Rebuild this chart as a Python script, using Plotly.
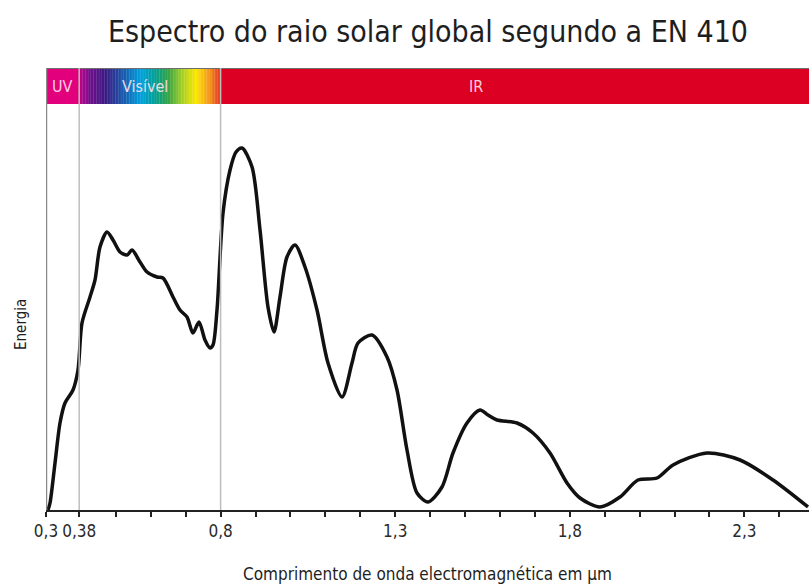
import plotly.graph_objects as go

# ---- data ----
wavelength = [0.3057, 0.3115, 0.3258, 0.3401, 0.3544, 0.3773, 0.3916, 0.4031, 0.4260, 0.4403,
              0.4546, 0.4747, 0.4919, 0.5119, 0.5320, 0.5463, 0.5692, 0.5892, 0.6179, 0.6351,
              0.6637, 0.6837, 0.7038, 0.7210, 0.7381, 0.7553, 0.7696, 0.7782, 0.7897, 0.8069,
              0.8270, 0.8441, 0.8613, 0.8900, 0.9129, 0.9357, 0.9529, 0.9701, 0.9901, 1.0131,
              1.0417, 1.0761, 1.1076, 1.1477, 1.1763, 1.1935, 1.2336, 1.2765, 1.3052, 1.3338,
              1.3625, 1.3939, 1.4340, 1.4655, 1.5056, 1.5429, 1.5658, 1.5915, 1.6488, 1.6946,
              1.7433, 1.7920, 1.8292, 1.8865, 1.9438, 1.9953, 2.0498, 2.0956, 2.1930, 2.2875,
              2.3820, 2.4822]
energy = [0, 7, 47, 87, 107, 120, 140, 187, 213, 230,
          263, 278, 270, 258, 255, 260, 248, 238, 233, 232,
          213, 200, 193, 177, 188, 170, 162, 165, 200, 297,
          340, 358, 362, 343, 280, 203, 178, 213, 253, 265,
          243, 200, 147, 113, 147, 167, 175, 153, 120, 60,
          17, 8, 23, 57, 87, 100, 95, 90, 87, 77,
          57, 27, 12, 3, 13, 30, 32, 45, 57, 50,
          30, 3]

tick_positions = [0.3, 0.395, 0.5, 0.6, 0.7, 0.8, 0.9, 1.0, 1.1, 1.2, 1.3, 1.4, 1.5, 1.6, 1.7,
                  1.8, 1.9, 2.0, 2.1, 2.2, 2.3, 2.4]
tick_labels = ["0,3", "0,38", "", "", "", "0,8", "", "", "", "", "1,3", "", "", "", "",
               "1,8", "", "", "", "", "2,3", ""]

band_names = ["UV", "Visível", "IR"]
band_edges = [0.3, 0.395, 0.8, 2.485]
band_label_x = [0.346, 0.583, 1.53]

vis_stop_pos = [0.395, 0.40, 0.43, 0.47, 0.53, 0.57, 0.61, 0.65, 0.69, 0.73, 0.77, 0.80]
vis_stop_col = ["#c8007e", "#b0068a", "#6a118c", "#3a1b82", "#1565b4", "#00a0df", "#00a09a",
                "#35a244", "#a6d025", "#fce600", "#f29120", "#e2301e"]

X_MIN, X_MAX = 0.3, 2.485
Y_MAX = 442
BAND_LOW = 406

FONT = "Liberation Sans Narrow, DejaVu Sans Condensed, Arial Narrow, sans-serif"


def hex_to_rgb(h):
    h = h.lstrip("#")
    return tuple(int(h[i:i + 2], 16) for i in (0, 2, 4))


def interp_color(x):
    for i in range(len(vis_stop_pos) - 1):
        a, b = vis_stop_pos[i], vis_stop_pos[i + 1]
        if a <= x <= b:
            t = (x - a) / (b - a) if b > a else 0
            c1, c2 = hex_to_rgb(vis_stop_col[i]), hex_to_rgb(vis_stop_col[i + 1])
            c = [round(c1[k] + (c2[k] - c1[k]) * t) for k in range(3)]
            return "rgb(%d,%d,%d)" % tuple(c)
    return vis_stop_col[-1]


shapes = []
# UV block
shapes.append(dict(type="rect", xref="x", yref="y", x0=band_edges[0], x1=band_edges[1],
                   y0=BAND_LOW, y1=Y_MAX, fillcolor="#e3007d", line=dict(width=0), layer="below"))
# visible gradient
n = 90
a, b = band_edges[1], band_edges[2]
for i in range(n):
    x0 = a + (b - a) * i / n
    x1 = a + (b - a) * (i + 1) / n
    shapes.append(dict(type="rect", xref="x", yref="y", x0=x0, x1=x1 + 0.0008,
                       y0=BAND_LOW, y1=Y_MAX, fillcolor=interp_color((x0 + x1) / 2),
                       line=dict(width=0), layer="below"))
# IR block
shapes.append(dict(type="rect", xref="x", yref="y", x0=band_edges[2], x1=band_edges[3],
                   y0=BAND_LOW, y1=Y_MAX, fillcolor="#dc0022", line=dict(width=0), layer="below"))
# top border of band
shapes.append(dict(type="line", xref="x", yref="y", x0=X_MIN, x1=X_MAX, y0=Y_MAX, y1=Y_MAX,
                   line=dict(color="#6e6e6e", width=2)))
# boundary lines
for xv in [band_edges[1], band_edges[2]]:
    shapes.append(dict(type="line", xref="x", yref="y", x0=xv, x1=xv, y0=0, y1=Y_MAX,
                       line=dict(color="#bdbdbd", width=1.5)))
# left border
shapes.append(dict(type="line", xref="x", yref="y", x0=X_MIN, x1=X_MIN, y0=0, y1=Y_MAX,
                   line=dict(color="#8a8a8a", width=2.5)))

fig = go.Figure()
fig.add_trace(go.Scatter(x=wavelength, y=energy, mode="lines",
                         line=dict(color="#111111", width=3.5, shape="spline", smoothing=0.8),
                         hoverinfo="skip", showlegend=False))

annotations = []
for name, xv in zip(band_names, band_label_x):
    annotations.append(dict(x=xv, y=(BAND_LOW + Y_MAX) / 2, xref="x", yref="y", text=name,
                            showarrow=False, font=dict(family=FONT, size=16,
                                                       color="rgba(255,225,240,0.92)")))
annotations.append(dict(x=0.5, y=1 + (68 - 31) / 442, xref="paper", yref="paper",
                        text="Espectro do raio solar global segundo a EN 410", showarrow=False,
                        xanchor="center", yanchor="middle",
                        font=dict(family=FONT, size=30, color="#1e1e1e")))
annotations.append(dict(x=0.5, y=-(574 - 510) / 442, xref="paper", yref="paper",
                        text="Comprimento de onda electromagnética em µm", showarrow=False,
                        xanchor="center", yanchor="middle",
                        font=dict(family=FONT, size=17, color="#1e1e1e")))
annotations.append(dict(x=-(46 - 21) / 763, y=(510 - 325) / 442, xref="paper", yref="paper",
                        text="Energia", showarrow=False, textangle=-90,
                        xanchor="center", yanchor="middle",
                        font=dict(family=FONT, size=15, color="#1e1e1e")))

fig.update_layout(
    width=809, height=585,
    margin=dict(l=46, r=0, t=68, b=75),
    plot_bgcolor="white", paper_bgcolor="white",
    shapes=shapes, annotations=annotations,
    xaxis=dict(range=[X_MIN, X_MAX], showgrid=False, zeroline=False,
               showline=True, linecolor="#222222", linewidth=2,
               tickmode="array", tickvals=tick_positions, ticktext=tick_labels,
               ticks="outside", ticklen=5, tickwidth=1.5, tickcolor="#222222",
               tickfont=dict(family=FONT, size=17, color="#2a2a2a")),
    yaxis=dict(range=[0, Y_MAX], showgrid=False, zeroline=False, showline=False,
               showticklabels=False, ticks=""),
)

fig.write_html("out.html", config={"displayModeBar": False},
               post_script="document.body.style.margin='0';document.body.style.overflow='hidden';")
